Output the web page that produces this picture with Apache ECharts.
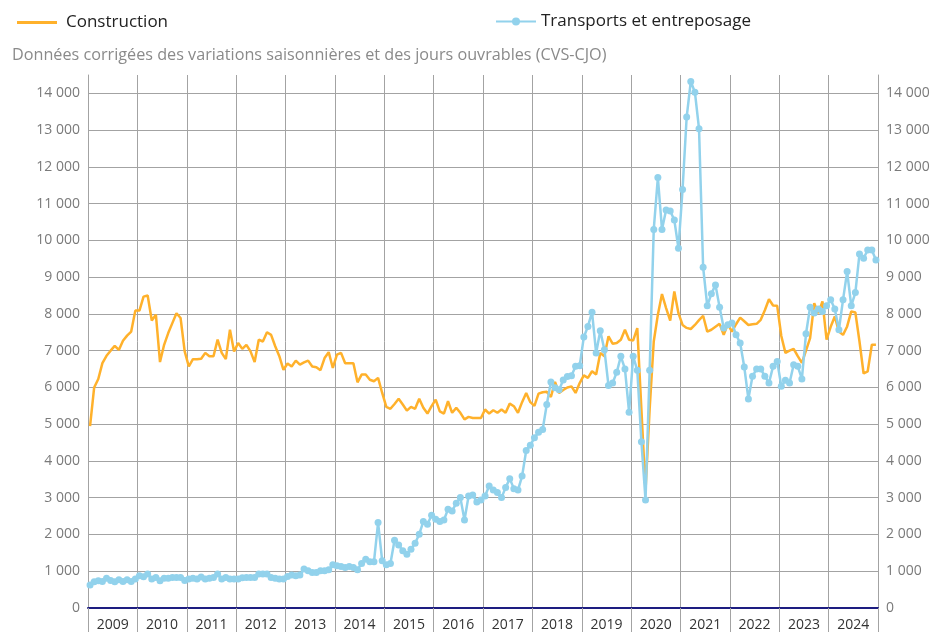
<!DOCTYPE html>
<html>
<head>
<meta charset="utf-8">
<script src="https://cdn.jsdelivr.net/npm/echarts@6/dist/echarts.min.js"></script>
<style>
html,body{margin:0;padding:0;background:#fff;}
#chart{width:933px;height:632px;}
</style>
</head>
<body>
<div id="chart"></div>
<script>
const years = ['2009','2010','2011','2012','2013','2014','2015','2016','2017','2018','2019','2020','2021','2022','2023','2024'];
const subtitle = 'Données corrigées des variations saisonnières et des jours ouvrables (CVS-CJO)';
const seriesNames = ['Construction', 'Transports et entreposage'];

// Construction, monthly Jan 2009 - Dec 2024
const construction = [
  4950, 6000, 6230, 6660, 6860, 7000, 7130, 7020, 7270, 7410, 7520, 8090,
  8090, 8470, 8500, 7820, 7980, 6690, 7160, 7480, 7750, 8020, 7890, 6980,
  6570, 6770, 6770, 6780, 6940, 6850, 6850, 7300, 6940, 6770, 7570, 6980,
  7210, 7050, 7160, 6980, 6690, 7300, 7250, 7500, 7430, 7120, 6850, 6480,
  6650, 6570, 6730, 6620, 6680, 6730, 6570, 6550, 6470, 6800, 6960, 6530,
  6890, 6940, 6660, 6660, 6660, 6140, 6350, 6350, 6210, 6170, 6260, 5850,
  5470, 5420, 5550, 5690, 5535, 5370, 5470, 5420, 5690, 5450, 5290, 5490,
  5670, 5350, 5290, 5625, 5310, 5445, 5310, 5130, 5200, 5170, 5170, 5170,
  5400, 5290, 5380, 5310, 5400, 5310, 5560, 5490, 5310, 5600, 5850, 5600,
  5500, 5830, 5870, 5880, 5740, 6150, 5850, 5930, 6000, 6030, 5850, 6120,
  6330, 6260, 6440, 6350, 6940, 6850, 7390, 7190, 7210, 7300, 7570, 7300,
  7280, 7615, 5400, 3200, 5400, 7250, 7980, 8540, 8160, 7820, 8610, 8020,
  7700, 7620, 7590, 7700, 7830, 7950, 7520, 7570, 7650, 7730, 7430, 7720,
  7520, 7720, 7900, 7800, 7700, 7720, 7730, 7840, 8100, 8400, 8230, 8220,
  7400, 6940, 7000, 7050, 6850, 6670, 7000, 7340, 8290, 8020, 8340, 7300,
  7650, 7930, 7520, 7430, 7660, 8070, 8040, 7250, 6380, 6440, 7160, 7160
];

// Transports et entreposage, monthly Jan 2009 - Dec 2024
const transports = [
  624, 714, 741, 724, 806, 751, 714, 768, 724, 768, 724, 787,
  877, 850, 922, 787, 832, 741, 806, 806, 832, 832, 832, 751,
  787, 806, 787, 841, 787, 806, 832, 922, 787, 832, 787, 787,
  787, 822, 832, 832, 832, 922, 922, 922, 832, 806, 787, 787,
  859, 895, 877, 895, 1058, 1012, 968, 968, 1012, 1012, 1039, 1175,
  1148, 1131, 1104, 1131, 1104, 1039, 1213, 1329, 1256, 1256, 2325, 1283,
  1175, 1213, 1845, 1717, 1555, 1465, 1600, 1763, 2008, 2352, 2279, 2523,
  2415, 2352, 2396, 2686, 2640, 2849, 3003, 2396, 3047, 3074, 2884, 2938,
  3047, 3318, 3209, 3139, 3003, 3275, 3519, 3247, 3209, 3589, 4286, 4430,
  4631, 4783, 4856, 5534, 6150, 5990, 5940, 6200, 6300, 6320, 6574, 6590,
  7370, 7659, 8049, 6937, 7542, 7027, 6050, 6122, 6411, 6846, 6503, 5327,
  6846, 6466, 4520, 2940, 6466, 10300, 11712, 10300, 10825, 10798, 10553, 9786,
  11386, 13356, 14324, 14034, 13041, 9270, 8220, 8546, 8790, 8185, 7615, 7705,
  7750, 7433, 7208, 6557, 5689, 6302, 6503, 6503, 6302, 6122, 6574, 6709,
  6031, 6194, 6122, 6620, 6574, 6231, 7460, 8185, 8022, 8131, 8066, 8220,
  8383, 8131, 7569, 8383, 9151, 8220, 8581, 9631, 9514, 9740, 9740, 9468
];

const months = [];
years.forEach(y => { for (let m = 1; m <= 12; m++) months.push(y + '-' + (m < 10 ? '0' + m : m)); });

const FONT = '"Open Sans", "Noto Sans", sans-serif';
const ORANGE = '#FFB12B';
const BLUE = '#92D2EC';
const GRID = '#a3a3a3';

const fmt = v => v > 14000 ? '' : String(v).replace(/\B(?=(\d{3})+(?!\d))/g, ' ');
const splitColors = [];
for (let i = 0; i <= 14; i++) splitColors.push(GRID);
splitColors.push('rgba(0,0,0,0)');

const yAxisBase = {
  type: 'value', min: 0, max: 14500, interval: 1000,
  axisTick: { show: false },
  axisLine: { show: true, lineStyle: { color: GRID, width: 1 } },
  axisLabel: { formatter: fmt, color: '#7a7a7a', fontSize: 14, fontFamily: FONT, margin: 8, showMaxLabel: false }
};

const chart = echarts.init(document.getElementById('chart'), null, { renderer: 'canvas' });
chart.setOption({
  animation: false,
  backgroundColor: '#ffffff',
  title: {
    text: subtitle, left: 7, top: 42,
    textStyle: { fontSize: 16.2, fontWeight: 'normal', color: '#8a8a8a', fontFamily: FONT }
  },
  legend: [
    { data: [{ name: seriesNames[0], icon: 'rect' }], left: 12, top: 9, itemWidth: 40, itemHeight: 3,
      textStyle: { fontSize: 17, color: '#222', fontFamily: FONT, padding: [0, 0, 0, 4] } },
    { data: [seriesNames[1]], left: 490, top: 8, itemWidth: 40, itemHeight: 10,
      textStyle: { fontSize: 17, color: '#222', fontFamily: FONT, padding: [0, 0, 0, 0] } }
  ],
  grid: { left: 88, right: 55, top: 75, bottom: 23, containLabel: false },
  xAxis: {
    type: 'category', data: months, boundaryGap: true,
    axisLine: { show: true, onZero: false, lineStyle: { color: '#1d1d80', width: 2 } },
    axisTick: { show: true, length: 26, interval: (i) => i % 12 === 0, lineStyle: { color: GRID } },
    splitLine: { show: true, interval: (i) => i % 12 === 0, lineStyle: { color: GRID, width: 1 } },
    axisLabel: {
      interval: (i) => i % 12 === 6,
      formatter: (v, i) => years[Math.floor(i / 12)],
      color: '#333', fontSize: 14, fontFamily: FONT, margin: 10, padding: [0, 4, 0, 0]
    }
  },
  yAxis: [
    Object.assign({}, yAxisBase, { position: 'left',
      splitLine: { show: true, lineStyle: { color: splitColors, width: 1 } } }),
    Object.assign({}, yAxisBase, { position: 'right', splitLine: { show: false } })
  ],
  series: [
    { name: seriesNames[0], type: 'line', data: construction, yAxisIndex: 0,
      symbol: 'none', showSymbol: false,
      lineStyle: { color: ORANGE, width: 2.5 }, itemStyle: { color: ORANGE }, z: 2 },
    { name: seriesNames[1], type: 'line', data: transports, yAxisIndex: 0,
      symbol: 'circle', symbolSize: 7, showSymbol: true, showAllSymbol: true,
      lineStyle: { color: BLUE, width: 2.5 }, itemStyle: { color: BLUE }, z: 3 }
  ]
});
</script>
</body>
</html>
